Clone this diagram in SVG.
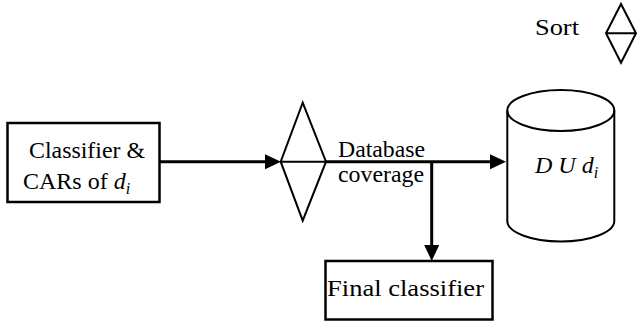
<svg xmlns="http://www.w3.org/2000/svg" width="637" height="324" viewBox="0 0 637 324">
  <style>
    .box { fill: #fff; stroke: #000; stroke-width: 2.5; }
    .shape { fill: none; stroke: #000; stroke-width: 2; }
    .wire { fill: none; stroke: #000; stroke-width: 3; }
    .lbl { font-family: 'Liberation Serif', 'Times New Roman', serif; font-size: 24px; fill: #000; }
    .it { font-style: italic; }
  </style>
  <defs>
    <marker id="arrow" markerUnits="userSpaceOnUse" markerWidth="17" markerHeight="16" refX="2" refY="7.5" orient="auto">
      <path d="M0,0 L16,7.5 L0,15 z" fill="#000"/>
    </marker>
  </defs>

  <!-- legend: sort symbol -->
  <g id="legend-sort">
    <text class="lbl" x="535" y="35" textLength="44" lengthAdjust="spacingAndGlyphs">Sort</text>
    <path class="shape" d="M621,4 L636,33.3 L621,62.7 L606,33.3 Z M606,33.3 L636,33.3"/>
  </g>

  <!-- input: classifier and rules of d_i -->
  <g id="classifier-cars">
    <rect class="box" x="7.5" y="123" width="152" height="79"/>
    <text class="lbl" x="29" y="158" textLength="116" lengthAdjust="spacingAndGlyphs">Classifier &amp;</text>
    <text class="lbl" x="23" y="189">CARs of <tspan class="it">d</tspan><tspan class="it" font-size="16" dy="5">i</tspan></text>
  </g>

  <!-- sort step -->
  <g id="sort">
    <path class="shape" d="M302.7,102.7 L326,161.7 L302.7,220.7 L280.7,161.7 Z M280.7,161.7 L326,161.7"/>
  </g>

  <!-- database D U d_i -->
  <g id="database">
    <path class="shape" d="M507.3,110.5 L507.3,221 A53.5,20.5 0 0 0 614.3,221 L614.3,110.5"/>
    <ellipse class="shape" cx="560.8" cy="110.5" rx="53.5" ry="20.5"/>
    <text class="lbl it" x="535" y="172.5" font-size="25">D U d<tspan font-size="16" dy="5">i</tspan></text>
  </g>

  <!-- final classifier -->
  <g id="final-classifier">
    <rect class="box" x="325.5" y="261" width="167" height="58.5"/>
    <text class="lbl" x="327" y="296" textLength="157" lengthAdjust="spacingAndGlyphs">Final classifier</text>
  </g>

  <!-- connectors -->
  <g id="connectors">
    <line class="wire" x1="159.5" y1="161.7" x2="267" y2="161.7" marker-end="url(#arrow)"/>
    <line class="wire" x1="326" y1="161.7" x2="492" y2="161.7" marker-end="url(#arrow)"/>
    <line class="wire" x1="431.7" y1="161.7" x2="431.7" y2="247" marker-end="url(#arrow)"/>
    <text class="lbl" x="338" y="157.3" textLength="87" lengthAdjust="spacingAndGlyphs">Database</text>
    <text class="lbl" x="338" y="181.7" textLength="86" lengthAdjust="spacingAndGlyphs">coverage</text>
  </g>
</svg>
